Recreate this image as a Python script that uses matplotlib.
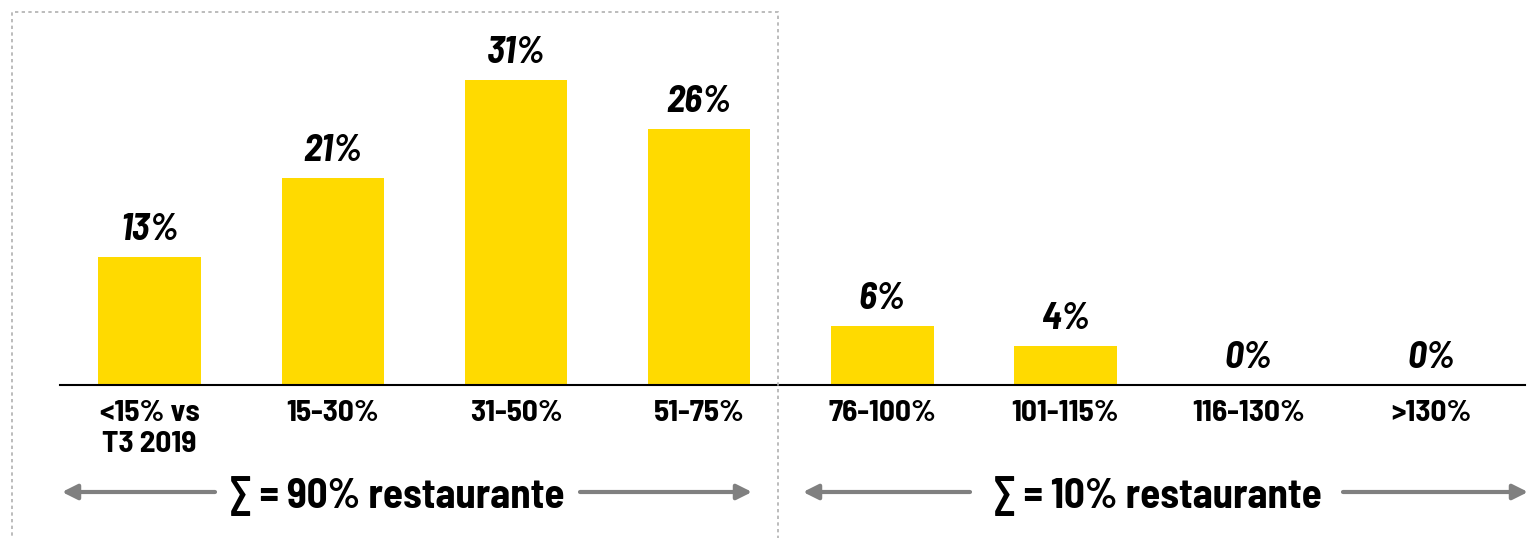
import matplotlib.pyplot as plt
from matplotlib.patches import Rectangle

categories = ["<15% vs\nT3 2019", "15-30%", "31-50%", "51-75%",
              "76-100%", "101-115%", "116-130%", ">130%"]
shares = [13, 21, 31, 26, 6, 4, 0, 0]
group_labels = ["\u2211 = 90% restaurante", "\u2211 = 10% restaurante"]

plt.rcParams['font.family'] = ['Barlow Semi Condensed', 'DejaVu Sans']

fig = plt.figure(figsize=(15.3, 5.38), dpi=100)
W, H = 1530, 538
ax = fig.add_axes([60 / W, (H - 385) / H, 1465 / W, 345 / H])

bars = ax.bar(range(len(shares)), shares, width=0.56, color="#FFDA00")
ax.bar_label(bars, labels=[f"{v}%" for v in shares], padding=7,
             fontsize=27, fontweight="bold", fontstyle="italic")

ax.set_xlim(-0.49, 7.51)
ax.set_ylim(0, 345 / 9.85)
ax.set_xticks(range(len(categories)))
ax.set_xticklabels(categories, fontsize=22.5, fontweight="bold", va="top",
                   linespacing=1.2)
ax.tick_params(axis="x", length=0, pad=11)
ax.set_yticks([])
for s in ["left", "right", "top"]:
    ax.spines[s].set_visible(False)
ax.spines["bottom"].set_linewidth(1.5)

# dotted frame around the first group
fig.patches.append(Rectangle((12 / W, -0.02), 766 / W, (H - 12) / H + 0.02,
                             transform=fig.transFigure, fill=False,
                             edgecolor="#b0b0b0", linestyle=(0, (2, 2)),
                             linewidth=1.2))

# group summaries with arrows
arrow_y = (H - 492) / H
arrow_kw = dict(arrowstyle="-|>,head_length=0.9,head_width=0.45",
                color="#808080", lw=3, shrinkA=0, shrinkB=0)
for (x0, x1), (x2, x3), (tx, label) in zip(
        [(215, 62), (970, 803)], [(580, 752), (1343, 1528)],
        [(397, group_labels[0]), (1157, group_labels[1])]):
    fig.add_artist(plt.Annotation("", xy=(x1 / W, arrow_y), xytext=(x0 / W, arrow_y),
                                  xycoords="figure fraction", arrowprops=arrow_kw))
    fig.add_artist(plt.Annotation("", xy=(x3 / W, arrow_y), xytext=(x2 / W, arrow_y),
                                  xycoords="figure fraction", arrowprops=arrow_kw))
    fig.text(tx / W, (H - 496) / H, label, fontsize=29.5, fontweight="bold",
             ha="center", va="center")

plt.savefig("out.png", dpi=100)
